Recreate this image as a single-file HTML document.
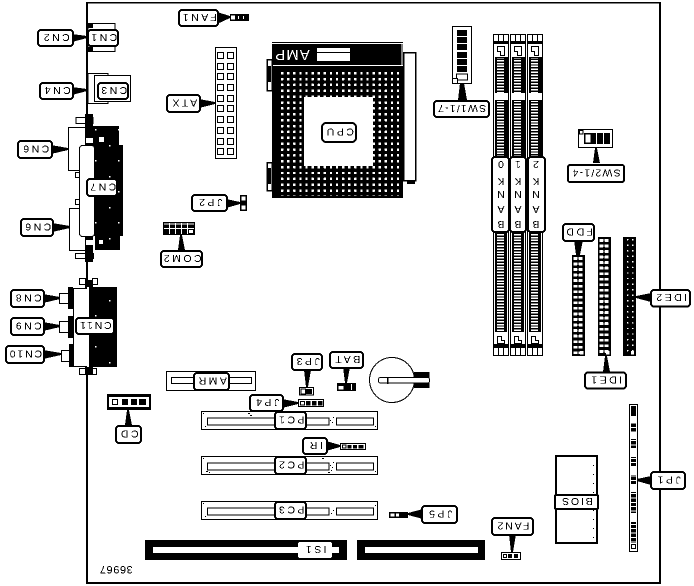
<!DOCTYPE html>
<html><head><meta charset="utf-8"><style>
html,body{margin:0;padding:0;background:#fff;width:694px;height:586px;overflow:hidden}
svg{display:block}
.l rect{fill:#fff;stroke:#000;stroke-width:2}
text{font-family:"Liberation Sans",sans-serif;font-size:10.5px;text-anchor:middle;letter-spacing:2.5px;fill:#000}
</style></head><body>
<svg width="694" height="586" viewBox="0 0 694 586" xmlns="http://www.w3.org/2000/svg" shape-rendering="crispEdges" filter="url(#bw)">
<defs>
<filter id="bw" x="0" y="0" width="100%" height="100%" color-interpolation-filters="sRGB"><feComponentTransfer><feFuncR type="discrete" tableValues="0 1"/><feFuncG type="discrete" tableValues="0 1"/><feFuncB type="discrete" tableValues="0 1"/></feComponentTransfer></filter>
<pattern id="pins" patternUnits="userSpaceOnUse" x="281" y="72" width="6.1" height="5.87"><rect x="0" y="0" width="2.4" height="2.4" fill="#fff"/></pattern>
<pattern id="fdd" patternUnits="userSpaceOnUse" x="573.5" y="257" width="5.2" height="5.55"><rect width="3.6" height="2.8" fill="#fff"/></pattern>
<pattern id="ide1" patternUnits="userSpaceOnUse" x="599.5" y="239" width="5.2" height="5.55"><rect width="3.6" height="2.8" fill="#fff"/></pattern>
<pattern id="ide2" patternUnits="userSpaceOnUse" x="624.5" y="239" width="5.2" height="5.55"><rect x="2.5" width="1.5" height="1.6" fill="#fff"/></pattern>
<pattern id="comb" patternUnits="userSpaceOnUse" x="0" y="57" width="16" height="2.9"><rect width="16" height="1.3" fill="#fff"/></pattern>
<pattern id="jp" patternUnits="userSpaceOnUse" x="0" y="406" width="8" height="4.4"><rect width="8" height="3.6" fill="#000"/></pattern>
<pattern id="dots" patternUnits="userSpaceOnUse" x="0" y="0" width="7" height="9"><rect x="1" y="2" width="1" height="1" fill="#000"/><rect x="5" y="6" width="1" height="1" fill="#000"/></pattern>
<pattern id="wdots" patternUnits="userSpaceOnUse" x="0" y="0" width="23" height="31"><rect x="3" y="5" width="1.5" height="1.5" fill="#fff"/><rect x="17" y="21" width="1.5" height="1.5" fill="#fff"/></pattern>
</defs>
<rect x="0" y="0" width="694" height="586" fill="#fff"/>

<!-- board outline -->
<g fill="#000">
<rect x="86" y="2" width="575" height="1.6"/>
<rect x="86" y="2" width="2" height="582"/>
<rect x="659" y="2" width="2" height="582"/>
<rect x="86" y="582" width="575" height="2"/>
</g>

<!-- rear left connectors top -->
<g fill="#fff" stroke="#000" stroke-width="1">
<rect x="88" y="23.5" width="27" height="28"/>
<rect x="88" y="73.5" width="20" height="30"/>
<rect x="94.5" y="75.5" width="36" height="26"/>
<rect x="68.5" y="127.5" width="18" height="43"/>
<rect x="69.5" y="208.5" width="17" height="42"/>
<rect x="76" y="117.5" width="17" height="6"/>
<rect x="75.5" y="253.5" width="18" height="5"/>
<rect x="75.5" y="172.5" width="4" height="5"/>
<rect x="75.5" y="199.5" width="4" height="5"/>
</g>
<g fill="#000">
<rect x="87" y="23" width="6" height="5"/>
<rect x="87" y="47" width="6" height="5"/>
<rect x="92" y="126" width="27" height="20"/>
<rect x="94" y="145" width="29" height="91"/>
<rect x="95" y="236" width="25" height="14"/>
<rect x="85" y="114" width="8" height="31"/>
<rect x="85" y="237" width="8" height="25"/>
<rect x="92" y="126" width="31" height="124" fill="url(#wdots)"/>
</g>
<rect x="79.5" y="145.5" width="15" height="91" rx="3" fill="#fff" stroke="#000"/>
<rect x="86" y="138" width="7" height="5" fill="#fff"/>
<rect x="86" y="240" width="7" height="5" fill="#fff"/>
<rect x="99" y="137" width="5" height="5" fill="#fff"/>
<rect x="99" y="240" width="4" height="4" fill="#fff"/>

<!-- rear lower connectors -->
<g fill="#000">
<rect x="88" y="287" width="29" height="80"/>
<rect x="68" y="287" width="5" height="22"/>
<rect x="68" y="316" width="5" height="22"/>
<rect x="69" y="344" width="4" height="23"/>
<rect x="85" y="280" width="8" height="8"/>
<rect x="85" y="366" width="8" height="9"/>
</g>
<rect x="88" y="287" width="29" height="80" fill="url(#wdots)"/>
<g fill="#fff" stroke="#000">
<rect x="73.5" y="288.5" width="14" height="78"/>
<rect x="59.5" y="293.5" width="9" height="10"/>
<rect x="59.5" y="321.5" width="9" height="11"/>
<rect x="61.5" y="350.5" width="8" height="11"/>
<rect x="79.5" y="278.5" width="6" height="6"/>
<rect x="92.5" y="278.5" width="5" height="6"/>
<rect x="79.5" y="368.5" width="6" height="6"/>
<rect x="92.5" y="368.5" width="4" height="6"/>
</g>
<rect x="87" y="287" width="2" height="80" fill="#fff"/>

<!-- ATX -->
<rect x="215.5" y="47.5" width="21" height="111" fill="#fff" stroke="#000"/>
<g fill="#fff" stroke="#000">
<rect x="217.5" y="52.5" width="6" height="6"/><rect x="227.5" y="52.5" width="6" height="6"/>
<rect x="217.5" y="63.5" width="6" height="6"/><rect x="227.5" y="63.5" width="6" height="6"/>
<rect x="217.5" y="73.5" width="6" height="6"/><rect x="227.5" y="73.5" width="6" height="6"/>
<rect x="217.5" y="84.5" width="6" height="6"/><rect x="227.5" y="84.5" width="6" height="6"/>
<rect x="217.5" y="95.5" width="6" height="6"/><rect x="227.5" y="95.5" width="6" height="6"/>
<rect x="217.5" y="105.5" width="6" height="6"/><rect x="227.5" y="105.5" width="6" height="6"/>
<rect x="217.5" y="116.5" width="6" height="6"/><rect x="227.5" y="116.5" width="6" height="6"/>
<rect x="217.5" y="127.5" width="6" height="6"/><rect x="227.5" y="127.5" width="6" height="6"/>
<rect x="217.5" y="138.5" width="6" height="6"/><rect x="227.5" y="138.5" width="6" height="6"/>
<rect x="217.5" y="148.5" width="6" height="6"/><rect x="227.5" y="148.5" width="6" height="6"/>
</g>

<!-- FAN1 connector -->
<rect x="230" y="14" width="19" height="7" fill="#000"/>
<rect x="231" y="15.5" width="4" height="4" fill="#fff"/><rect x="238" y="16" width="1" height="3" fill="#fff"/><rect x="243" y="16" width="1" height="3" fill="#fff"/>

<!-- CPU socket -->
<rect x="272" y="42" width="131" height="156" fill="#000"/>
<rect x="272" y="43" width="131" height="1.2" fill="#fff"/>
<rect x="272" y="65" width="131" height="1.2" fill="#fff"/>
<rect x="401.5" y="44" width="1.2" height="21" fill="#fff"/>
<rect x="317" y="48" width="33" height="13" fill="#fff"/>
<rect x="317" y="52" width="33" height="1" fill="#000"/>
<text x="292" y="58" transform="rotate(180 292 54)" style="fill:#fff;font-size:15px;letter-spacing:1px">AMP</text>
<rect x="279" y="71" width="122" height="125" fill="url(#pins)"/>
<rect x="304" y="97" width="69" height="69" fill="#fff"/>
<g fill="#fff" stroke="#000" stroke-width="1.5">
<rect x="403.5" y="52.5" width="12" height="128"/>
<rect x="267" y="59.5" width="5" height="31"/>
<rect x="267" y="162.5" width="5" height="28"/>
</g>
<rect x="268" y="66" width="3" height="16" fill="#000"/>
<rect x="268" y="168" width="3" height="16" fill="#000"/>
<rect x="407" y="180" width="8" height="4" fill="#000"/>

<!-- SW1 -->
<rect x="452.5" y="26.5" width="19" height="57" fill="#fff" stroke="#000"/>
<g fill="#000">
<rect x="457" y="30" width="10" height="6"/><rect x="457" y="37" width="10" height="6"/>
<rect x="457" y="44" width="10" height="6"/><rect x="457" y="52" width="10" height="6"/>
<rect x="457" y="59" width="10" height="6"/><rect x="457" y="66" width="10" height="6"/>
</g>
<rect x="456.5" y="74" width="11" height="6" fill="#fff" stroke="#000"/>
<rect x="452.5" y="78.5" width="5" height="5" fill="#fff" stroke="#000"/>

<!-- DIMMs -->
<g fill="#fff" stroke="#000">
<rect x="493.5" y="34.5" width="15" height="321"/>
<rect x="510.5" y="34.5" width="15" height="321"/>
<rect x="527.5" y="34.5" width="15" height="321"/>
</g>
<g fill="#000">
<rect x="493" y="41" width="16" height="3"/><rect x="510" y="41" width="16" height="3"/><rect x="527" y="41" width="16" height="3"/>
<rect x="498" y="34" width="1" height="7"/><rect x="503" y="34" width="1" height="7"/>
<rect x="515" y="34" width="1" height="7"/><rect x="520" y="34" width="1" height="7"/>
<rect x="532" y="34" width="1" height="7"/><rect x="537" y="34" width="1" height="7"/>
<rect x="495" y="57" width="13" height="36"/><rect x="512" y="57" width="13" height="36"/><rect x="529" y="57" width="13" height="36"/>
<rect x="495" y="100" width="13" height="132"/><rect x="512" y="100" width="13" height="132"/><rect x="529" y="100" width="13" height="132"/>
<rect x="495" y="232" width="12" height="100"/><rect x="512" y="232" width="12" height="100"/><rect x="529" y="232" width="12" height="100"/>
<rect x="494" y="344" width="14" height="4"/><rect x="511" y="344" width="14" height="4"/><rect x="528" y="344" width="14" height="4"/>
<rect x="498" y="348" width="1" height="7"/><rect x="503" y="348" width="1" height="7"/>
<rect x="515" y="348" width="1" height="7"/><rect x="520" y="348" width="1" height="7"/>
<rect x="532" y="348" width="1" height="7"/><rect x="537" y="348" width="1" height="7"/>
</g>
<g fill="url(#comb)">
<rect x="497" y="58" width="7" height="35"/><rect x="514" y="58" width="7" height="35"/><rect x="531" y="58" width="7" height="35"/>
<rect x="497" y="101" width="7" height="230"/><rect x="514" y="101" width="7" height="230"/><rect x="531" y="101" width="7" height="230"/>
</g>
<g fill="#fff" stroke="#000">
<path d="M497.5 46.5h7v9h-4v-4h-3z"/><path d="M514.5 46.500h7v9h-4v-4h-3z"/><path d="M531.5 46.500h7v9h-4v-4h-3z"/>
<path d="M497.5 336.500h4v4h3v3h-7z"/><path d="M514.5 336.500h4v4h3v3h-7z"/><path d="M531.5 336.500h4v4h3v3h-7z"/>
</g>

<!-- BANK labels -->
<g fill="#fff" stroke="#000" stroke-width="2">
<rect x="492" y="157" width="17" height="75" rx="3"/>
<rect x="510" y="157" width="16" height="75" rx="3"/>
<rect x="528" y="157" width="17" height="75" rx="3"/>
</g>
<g style="letter-spacing:0">
<text x="501" y="169" transform="rotate(180 501 165)" style="letter-spacing:0">0</text>
<text x="501" y="186" transform="rotate(180 501 182)" style="letter-spacing:0">K</text>
<text x="501" y="199" transform="rotate(180 501 195)" style="letter-spacing:0">N</text>
<text x="501" y="214" transform="rotate(180 501 210)" style="letter-spacing:0">A</text>
<text x="501" y="229" transform="rotate(180 501 225)" style="letter-spacing:0">B</text>
<text x="518" y="169" transform="rotate(180 518 165)" style="letter-spacing:0">1</text>
<text x="518" y="186" transform="rotate(180 518 182)" style="letter-spacing:0">K</text>
<text x="518" y="199" transform="rotate(180 518 195)" style="letter-spacing:0">N</text>
<text x="518" y="214" transform="rotate(180 518 210)" style="letter-spacing:0">A</text>
<text x="518" y="229" transform="rotate(180 518 225)" style="letter-spacing:0">B</text>
<text x="536" y="169" transform="rotate(180 536 165)" style="letter-spacing:0">2</text>
<text x="536" y="186" transform="rotate(180 536 182)" style="letter-spacing:0">K</text>
<text x="536" y="199" transform="rotate(180 536 195)" style="letter-spacing:0">N</text>
<text x="536" y="214" transform="rotate(180 536 210)" style="letter-spacing:0">A</text>
<text x="536" y="229" transform="rotate(180 536 225)" style="letter-spacing:0">B</text>
</g>

<!-- SW2 -->
<rect x="578.5" y="129.5" width="34" height="18" fill="#fff" stroke="#000"/>
<rect x="584" y="133" width="26" height="11" fill="#000"/>
<rect x="585.5" y="134.5" width="5" height="8" fill="#fff"/>
<rect x="596" y="133" width="1" height="11" fill="#fff"/><rect x="603" y="133" width="1" height="11" fill="#fff"/>
<rect x="579.5" y="130.5" width="3.5" height="3.5" fill="#fff" stroke="#000"/>

<!-- IDE/FDD -->
<rect x="572" y="255" width="13" height="101" fill="#000"/>
<rect x="573" y="257" width="11" height="98" fill="url(#fdd)"/>
<rect x="598" y="237" width="13" height="119" fill="#000"/>
<rect x="599" y="239" width="11" height="116" fill="url(#ide1)"/>
<rect x="623" y="237" width="13" height="119" fill="#000"/>
<rect x="624" y="239" width="11" height="116" fill="url(#ide2)"/>
<g fill="#fff"><rect x="580" y="351" width="3.5" height="3.5"/><rect x="606" y="351" width="3.5" height="3.5"/><rect x="631" y="351" width="3" height="3.5"/></g>

<!-- COM2 -->
<rect x="163" y="222" width="32" height="13" fill="#000"/>
<g fill="#fff">
<rect x="164" y="223.500" width="30" height="1"/><rect x="164" y="228" width="30" height="1"/>
<rect x="169" y="223" width="1" height="11"/><rect x="175" y="223" width="1" height="11"/><rect x="181" y="223" width="1" height="11"/><rect x="187" y="223" width="1" height="11"/>
<rect x="189" y="230" width="4" height="3"/>
</g>

<!-- JP2 -->
<rect x="240" y="195" width="7" height="16" fill="#000"/><rect x="241.500" y="196.500" width="4" height="4" fill="#fff"/><rect x="241.500" y="205.500" width="4" height="4" fill="#fff"/>

<!-- AMR -->
<rect x="166.500" y="371.500" width="89" height="19" fill="#fff" stroke="#000"/>
<rect x="171.500" y="377.500" width="80" height="6" fill="#fff" stroke="#000"/>

<!-- CD -->
<rect x="107" y="394" width="44" height="16" fill="#000"/>
<rect x="109" y="397" width="40" height="10" fill="#fff"/>
<rect x="112.500" y="399.500" width="5" height="5" fill="#fff" stroke="#000"/>
<rect x="122" y="399" width="6" height="6" fill="#000"/>
<rect x="131" y="399" width="6" height="6" fill="#000"/>
<rect x="139" y="399" width="7" height="6" fill="#000"/>

<!-- Small jumpers -->
<rect x="299.500" y="387.500" width="14" height="7.500" fill="#fff" stroke="#000"/><rect x="306" y="389" width="6" height="5" fill="#000"/><rect x="301" y="389" width="4.500" height="5" fill="#fff" stroke="#000" stroke-width="1"/>
<rect x="337" y="383" width="19" height="8" fill="#000"/><rect x="338.500" y="386" width="5" height="3.500" fill="#fff"/><rect x="351" y="384" width="1" height="6" fill="#fff"/>
<g><rect x="298.500" y="399.500" width="25" height="7" fill="#fff" stroke="#000"/><rect x="300.500" y="401.500" width="4" height="3.500" fill="#fff" stroke="#000"/><rect x="306" y="401" width="4.500" height="4.500" fill="#000"/><rect x="312" y="401" width="4.500" height="4.500" fill="#000"/><rect x="318" y="401" width="4.500" height="4.500" fill="#000"/></g>
<g><rect x="340.500" y="443.500" width="25" height="6" fill="#fff" stroke="#000"/><rect x="342.500" y="445" width="3.500" height="3" fill="#fff" stroke="#000"/><rect x="347.500" y="445" width="4" height="3.500" fill="#000"/><rect x="353" y="445" width="4" height="3.500" fill="#000"/><rect x="358.500" y="445" width="5" height="3.500" fill="#000"/></g>
<g><rect x="389" y="512" width="19" height="6" fill="#000"/><rect x="390.500" y="513.500" width="4" height="3" fill="#fff"/><rect x="396" y="513.500" width="3" height="3" fill="#fff"/></g>
<g><rect x="501.500" y="552.500" width="19" height="7" fill="#fff" stroke="#000"/><rect x="503.500" y="554.500" width="3" height="3" fill="#fff" stroke="#000"/><rect x="508" y="554" width="4" height="4" fill="#000"/><rect x="514" y="554" width="4" height="4" fill="#000"/></g>

<!-- PCI slots -->
<g fill="#fff" stroke="#000">
<rect x="201.500" y="411.500" width="176" height="18"/><rect x="207.500" y="418" width="67" height="7"/><rect x="306" y="418" width="23" height="7"/><rect x="336.500" y="418" width="37" height="7"/>
<rect x="201.500" y="456.500" width="176" height="18"/><rect x="207.500" y="463" width="67" height="7"/><rect x="306" y="463" width="23" height="7"/><rect x="336.500" y="463" width="37" height="7"/>
<rect x="201.500" y="501.500" width="176" height="18"/><rect x="207.500" y="508" width="67" height="7"/><rect x="306" y="508" width="23" height="7"/><rect x="336.500" y="508" width="37" height="7"/>
</g>
<g fill="#000">
<rect x="203" y="413" width="1" height="1"/><rect x="205" y="426" width="1" height="1"/><rect x="330" y="420" width="1" height="1"/><rect x="332" y="422" width="1" height="1"/><rect x="333" y="417" width="1" height="1"/><rect x="375" y="426" width="1" height="1"/><rect x="248" y="413" width="2" height="1"/><rect x="250" y="415" width="2" height="1"/>
<rect x="203" y="458" width="1" height="1"/><rect x="206" y="471" width="2" height="1"/><rect x="209" y="472" width="1" height="1"/><rect x="330" y="465" width="1" height="1"/><rect x="332" y="467" width="1" height="1"/><rect x="333" y="462" width="1" height="1"/><rect x="331" y="470" width="1" height="1"/><rect x="328" y="472" width="2" height="1"/><rect x="375" y="471" width="1" height="1"/><rect x="322" y="458" width="2" height="1"/>
<rect x="203" y="503" width="1" height="1"/><rect x="205" y="516" width="1" height="1"/><rect x="333" y="510" width="1" height="1"/><rect x="331" y="513" width="1" height="1"/><rect x="375" y="505" width="1" height="1"/>
</g>

<!-- ISA -->
<rect x="145" y="540" width="202" height="20" fill="#000"/>
<rect x="153" y="547" width="146" height="6" fill="#fff"/>
<rect x="332" y="547" width="7" height="6" fill="#fff"/>
<rect x="357" y="540" width="128" height="20" fill="#000"/>
<rect x="365" y="547" width="113" height="6" fill="#fff"/>

<!-- Battery -->
<circle cx="392" cy="380" r="22.500" fill="#fff" stroke="#000" stroke-width="1"/>
<rect x="414" y="372" width="15.500" height="16" fill="#000"/>
<rect x="378.500" y="377.500" width="51" height="5.500" rx="2" fill="#fff" stroke="#000"/>
<rect x="387" y="377" width="1.500" height="7" fill="#000"/>

<!-- BIOS -->
<rect x="556" y="456" width="41" height="87" fill="#fff" stroke="#000" stroke-width="2"/>
<rect x="591" y="457" width="5" height="85" fill="url(#dots)"/>
<rect x="593" y="457" width="3" height="85" fill="url(#dots)"/>

<!-- JP1 -->
<rect x="629.500" y="404.500" width="8" height="147" fill="#fff" stroke="#000"/>
<g fill="url(#jp)">
<rect x="631" y="406" width="5" height="10" style="fill:#000"/>
<rect x="631" y="423" width="5" height="9"/><rect x="631" y="439" width="5" height="9"/><rect x="631" y="457" width="5" height="9"/><rect x="631" y="475" width="5" height="9"/><rect x="631" y="492" width="5" height="21"/><rect x="631" y="522" width="5" height="21"/>
</g>
<rect x="631.500" y="544.500" width="4" height="4" fill="#fff" stroke="#000"/>

<!-- Pointers -->
<g fill="#000">
<path d="M217 12L230 16V18L217 24Z"/>
<path d="M72 34L87 36V38L72 42Z"/>
<path d="M72 87L87 89V91L72 95Z"/>
<path d="M199 99L215 102V104L199 108Z"/>
<path d="M51 145L68 148V150L51 154Z"/>
<path d="M226 199L240 202V204L226 208Z"/>
<path d="M52 223L70 226V228L52 232Z"/>
<path d="M178 250L180 235H182L185 250Z"/>
<path d="M43 294L60 297V299L43 303Z"/>
<path d="M43 322L60 325V327L43 331Z"/>
<path d="M43 350L61 353V355L43 359Z"/>
<path d="M125 425L127 410H129L132 425Z"/>
<path d="M304 370L306 387H308L311 370Z"/>
<path d="M343 367L345 383H347L350 367Z"/>
<path d="M282 399L298 402V404L282 408Z"/>
<path d="M326 441L340 445V447L326 451Z"/>
<path d="M423 509L408 513V515L423 519Z"/>
<path d="M509 534L511 552H513L516 534Z"/>
<path d="M458 100L460 83H464L467 100Z"/>
<path d="M593 163L595 148H597L600 163Z"/>
<path d="M574 240L576 255H580L583 240Z"/>
<path d="M603 372L605 356H607L610 372Z"/>
<path d="M651 293L636 296V298L651 302Z"/>
<path d="M651 476L637 479V481L651 485Z"/>
</g>

<!-- Labels -->
<g class="l">
<rect x="179" y="10" width="39" height="16" rx="3"/><text x="198.500" y="22" transform="rotate(180 198.500 18)">FAN1</text>
<rect x="38" y="30" width="35" height="16" rx="3"/><text x="55.500" y="42" transform="rotate(180 55.500 38)">CN2</text>
<rect x="88" y="30" width="30" height="16" rx="3"/><text x="103" y="42" transform="rotate(180 103 38)">CN1</text>
<rect x="40" y="83" width="33" height="16" rx="3"/><text x="56.500" y="95" transform="rotate(180 56.500 91)">CN4</text>
<rect x="98" y="83" width="30" height="16" rx="3"/><text x="113" y="95" transform="rotate(180 113 91)">CN3</text>
<rect x="167" y="95" width="33" height="17" rx="3"/><text x="183.500" y="107.500" transform="rotate(180 183.500 103.500)">ATX</text>
<rect x="18" y="141" width="34" height="17" rx="3"/><text x="35" y="153.500" transform="rotate(180 35 149.500)">CN6</text>
<rect x="87" y="179" width="30" height="17" rx="3"/><text x="102" y="191.500" transform="rotate(180 102 187.500)">CN7</text>
<rect x="192" y="195" width="35" height="16" rx="3"/><text x="209.500" y="207" transform="rotate(180 209.500 203)">JP2</text>
<rect x="21" y="219" width="32" height="17" rx="3"/><text x="37" y="231.500" transform="rotate(180 37 227.500)">CN6</text>
<rect x="161" y="251" width="41" height="16" rx="3"/><text x="181.500" y="263" transform="rotate(180 181.500 259)">COM2</text>
<rect x="11" y="290" width="33" height="17" rx="3"/><text x="27.500" y="302.500" transform="rotate(180 27.500 298.500)">CN8</text>
<rect x="11" y="318" width="33" height="17" rx="3"/><text x="27.500" y="330.500" transform="rotate(180 27.500 326.500)">CN9</text>
<rect x="6" y="346" width="38" height="17" rx="3"/><text x="25" y="358.500" transform="rotate(180 25 354.500)" style="letter-spacing:1.8px">CN10</text>
<rect x="76" y="318" width="38" height="16" rx="3"/><text x="95" y="330" transform="rotate(180 95 326)" style="letter-spacing:1.8px">CN11</text>
<rect x="194" y="373" width="35" height="17" rx="3"/><text x="211.500" y="385.500" transform="rotate(180 211.500 381.500)">AMR</text>
<rect x="116" y="426" width="25" height="17" rx="3"/><text x="128.500" y="438.500" transform="rotate(180 128.500 434.500)">CD</text>
<rect x="292" y="354" width="30" height="16" rx="3"/><text x="307" y="366" transform="rotate(180 307 362)">JP3</text>
<rect x="330" y="352" width="33" height="16" rx="3"/><text x="346.500" y="364" transform="rotate(180 346.500 360)">BAT</text>
<rect x="250" y="395" width="33" height="16" rx="3"/><text x="266.500" y="407" transform="rotate(180 266.500 403)">JP4</text>
<rect x="275" y="412" width="31" height="17" rx="3"/><text x="290.500" y="424.500" transform="rotate(180 290.500 420.500)">PC1</text>
<rect x="303" y="438" width="24" height="16" rx="3"/><text x="315" y="450" transform="rotate(180 315 446)">IR</text>
<rect x="275" y="457" width="31" height="17" rx="3"/><text x="290.500" y="469.500" transform="rotate(180 290.500 465.500)">PC2</text>
<rect x="275" y="502" width="31" height="17" rx="3"/><text x="290.500" y="514.500" transform="rotate(180 290.500 510.500)">PC3</text>
<rect x="322" y="123" width="34" height="19" rx="4"/><text x="339" y="136.500" transform="rotate(180 339 132.500)">CPU</text>
<rect x="434" y="101" width="55" height="16" rx="3"/><text x="461.500" y="113" transform="rotate(180 461.500 109)" style="letter-spacing:1.2px">SW1/1-7</text>
<rect x="568" y="165" width="56" height="17" rx="2"/><text x="596" y="177.500" transform="rotate(180 596 173.500)" style="letter-spacing:1.2px">SW2/1-4</text>
<rect x="563" y="224" width="31" height="17" rx="3"/><text x="578.500" y="236.500" transform="rotate(180 578.500 232.500)">FDD</text>
<rect x="585" y="372.500" width="41" height="16" rx="3"/><text x="605.500" y="384.500" transform="rotate(180 605.500 380.500)">IDE1</text>
<rect x="651" y="290" width="39" height="16.500" rx="3"/><text x="670.500" y="302" transform="rotate(180 670.500 298)">IDE2</text>
<rect x="651" y="472" width="34" height="17" rx="3"/><text x="668" y="484.500" transform="rotate(180 668 480.500)">JP1</text>
<rect x="422" y="506" width="35" height="17" rx="3"/><text x="439.500" y="518.500" transform="rotate(180 439.500 514.500)">JP5</text>
<rect x="492" y="518" width="41" height="17" rx="3"/><text x="512.500" y="530.500" transform="rotate(180 512.500 526.500)" style="letter-spacing:1.8px">FAN2</text>
<rect x="555" y="495" width="43" height="14" rx="1"/><text x="576.500" y="506" transform="rotate(180 576.500 502)" style="letter-spacing:1.8px">BIOS</text>
</g>
<rect x="298" y="542" width="34" height="16" rx="2" fill="#fff"/>
<text x="315" y="554" transform="rotate(180 315 550)">IS1</text>
<text x="116" y="574" transform="rotate(180 116 570)" style="font-size:11px;letter-spacing:.6px">36967</text>
</svg>
</body></html>
